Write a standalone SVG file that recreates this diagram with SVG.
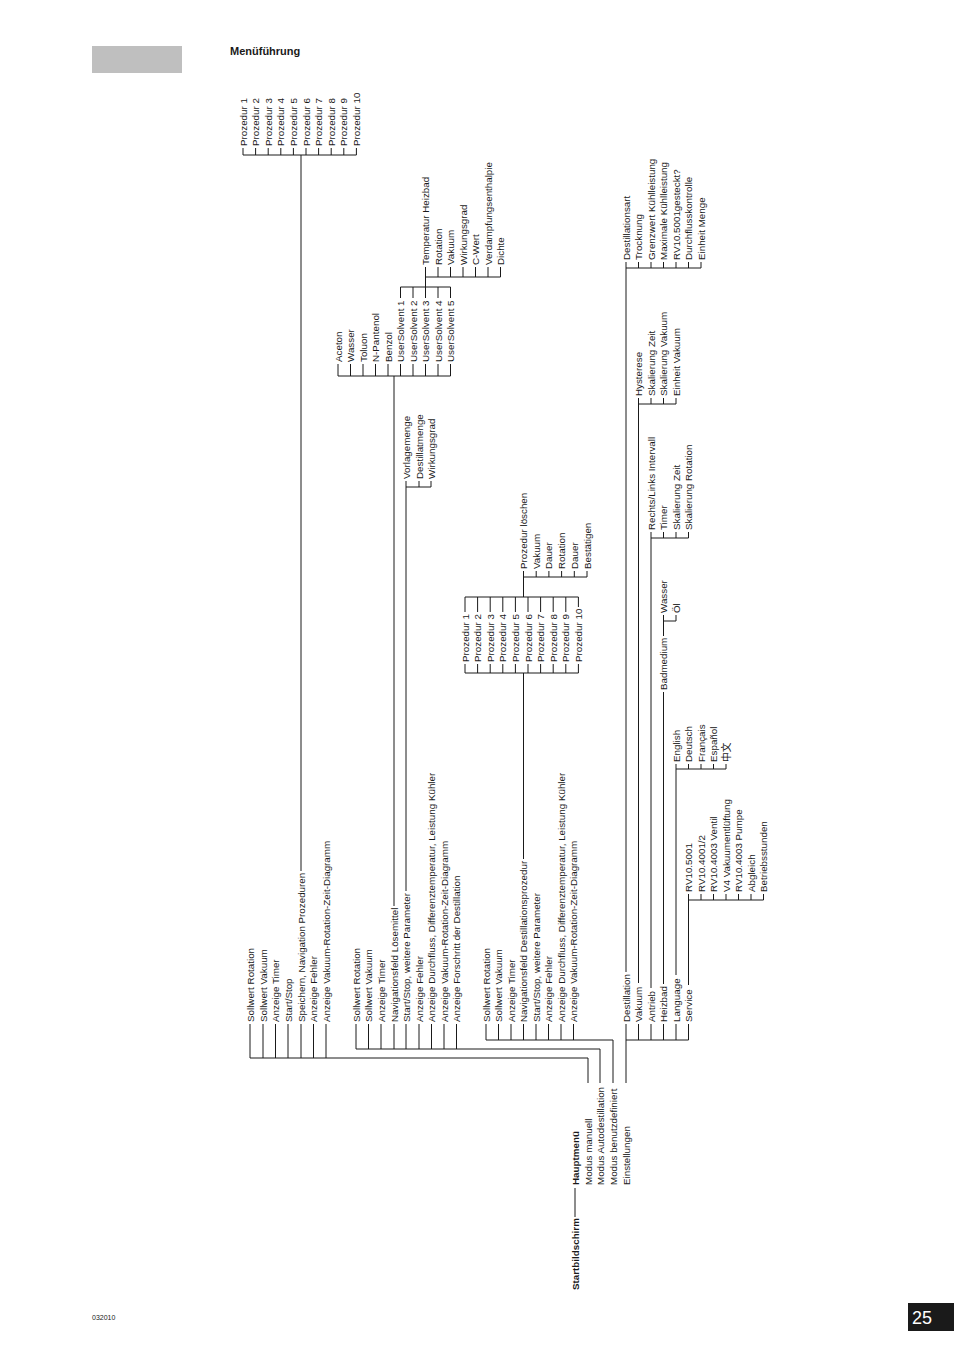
<svg xmlns="http://www.w3.org/2000/svg" width="954" height="1350" viewBox="0 0 954 1350">
<style>
text{font-family:"Liberation Sans",Arial,sans-serif;font-size:9.8px;fill:#1a1a1a}
.b{font-weight:bold}
.cjk{font-family:"Liberation Sans","Noto Sans CJK SC",sans-serif}
#connectors path{stroke:#1a1a1a;stroke-width:1;fill:none}
</style>
<rect width="954" height="1350" fill="#fff"/>
<g id="header">
<rect x="92" y="46" width="90" height="27" fill="#bfbfbf"/>
<text x="230" y="55" class="b" style="font-size:11px">Menüführung</text>
</g>
<g id="footer">
<text x="92" y="1320" style="font-size:7px">032010</text>
<rect x="908" y="1303" width="46" height="28" fill="#1a1a1a"/>
<text x="912" y="1324" style="font-size:18px;fill:#fff">25</text>
</g>
<g id="connectors">
<path d="M575 1217V1188"/>
<path d="M588 1083V1058H250M250 1024V1058M263 1024V1058M275.5 1024V1058M288 1024V1058M301 1024V1058M313.5 1024V1058M326 1024V1058"/>
<path d="M600 1083V1049H356M356 1024V1049M368.5 1024V1049M381 1024V1049M394 1024V1049M406 1024V1049M419 1024V1049M431.5 1024V1049M444 1024V1049M456.5 1024V1049"/>
<path d="M613 1083V1040H486M486 1024V1040M498.5 1024V1040M511 1024V1040M523.5 1024V1040M536 1024V1040M548.5 1024V1040M561 1024V1040M573.5 1024V1040"/>
<path d="M626 1083V1024M626 1040H688.5M638.5 1024V1040M651 1024V1040M663.5 1024V1040M676 1024V1040M688.5 1024V1040"/>
<path d="M301 871V155M243 148V155H356.4V148M255.6 148V155M268.2 148V155M280.8 148V155M293.4 148V155M306 148V155M318.6 148V155M331.2 148V155M343.8 148V155"/>
<path d="M394 906V376M338 364V376H450.5V364M350.5 364V376M363 364V376M375.5 364V376M388 364V376M400.5 364V376M413 364V376M425.5 364V376M438 364V376"/>
<path d="M400.5 298V287H450.5V298M413 298V287M425.5 298V277M438 298V287M425.5 277H500.5V267M425.5 277V267M438 267V277M450.5 267V277M463 267V277M475.5 267V277M488 267V277"/>
<path d="M406 891V487H431V481M406 487V481M419 481V487"/>
<path d="M523.5 859V673M465 664V673H578.4V664M477.6 664V673M490.2 664V673M502.8 664V673M515.4 664V673M528 664V673M540.6 664V673M553.2 664V673M565.8 664V673"/>
<path d="M465 612V597H578.4V607M477.6 612V597M490.2 612V597M502.8 612V597M515.4 612V597M528 612V597M540.6 612V597M553.2 612V597M565.8 612V597M523.5 597V577"/>
<path d="M523.5 577V571M523.5 577H587V571M536.2 571V577M548.9 571V577M561.6 571V577M574.3 571V577"/>
<path d="M626 972V262M626 268H701V262M638.5 262V268M651 262V268M663.5 262V268M676 262V268M688.5 262V268"/>
<path d="M638.5 983V398M638.5 404H676V398M651 398V404M663.5 398V404"/>
<path d="M651 988V532M651 538H688.5V532M663.5 532V538M676 532V538"/>
<path d="M663.5 984V692M663.5 636V615M663.5 621H676V615"/>
<path d="M676 975V764M676 769H726V764M688.5 764V769M701 764V769M713.5 764V769"/>
<path d="M688.5 985V894M688.5 900H763.5V894M701 894V900M713.5 894V900M726 894V900M738.5 894V900M751 894V900"/>
</g>
<g id="startbildschirm"><text class="b" transform="translate(578.5,1290) rotate(-90)">Startbildschirm</text></g>
<g id="hauptmenue"><text class="b" transform="translate(578.5,1185) rotate(-90)">Hauptmenü</text></g>
<g id="modus-manuell"><text transform="translate(591.5,1185) rotate(-90)">Modus manuell</text></g>
<g id="modus-autodestillation"><text transform="translate(603.5,1185) rotate(-90)">Modus Autodestillation</text></g>
<g id="modus-benutzdefiniert"><text transform="translate(616.5,1185) rotate(-90)">Modus benutzdefiniert</text></g>
<g id="einstellungen"><text transform="translate(629.5,1185) rotate(-90)">Einstellungen</text></g>

<g id="m1-sollwert-rotation"><text transform="translate(253.5,1022) rotate(-90)">Sollwert Rotation</text></g>
<g id="m1-sollwert-vakuum"><text transform="translate(266.5,1022) rotate(-90)">Sollwert Vakuum</text></g>
<g id="m1-anzeige-timer"><text transform="translate(279,1022) rotate(-90)">Anzeige Timer</text></g>
<g id="m1-start-stop"><text transform="translate(291.5,1022) rotate(-90)">Start/Stop</text></g>
<g id="m1-speichern"><text transform="translate(304.5,1022) rotate(-90)">Speichern, Navigation Prozeduren</text></g>
<g id="m1-anzeige-fehler"><text transform="translate(317,1022) rotate(-90)">Anzeige Fehler</text></g>
<g id="m1-diagramm"><text transform="translate(329.5,1022) rotate(-90)">Anzeige Vakuum-Rotation-Zeit-Diagramm</text></g>

<g id="p1-1"><text transform="translate(246.5,146) rotate(-90)">Prozedur 1</text></g>
<g id="p1-2"><text transform="translate(259.1,146) rotate(-90)">Prozedur 2</text></g>
<g id="p1-3"><text transform="translate(271.7,146) rotate(-90)">Prozedur 3</text></g>
<g id="p1-4"><text transform="translate(284.3,146) rotate(-90)">Prozedur 4</text></g>
<g id="p1-5"><text transform="translate(296.9,146) rotate(-90)">Prozedur 5</text></g>
<g id="p1-6"><text transform="translate(309.5,146) rotate(-90)">Prozedur 6</text></g>
<g id="p1-7"><text transform="translate(322.1,146) rotate(-90)">Prozedur 7</text></g>
<g id="p1-8"><text transform="translate(334.7,146) rotate(-90)">Prozedur 8</text></g>
<g id="p1-9"><text transform="translate(347.3,146) rotate(-90)">Prozedur 9</text></g>
<g id="p1-10"><text transform="translate(359.9,146) rotate(-90)">Prozedur 10</text></g>

<g id="m2-sollwert-rotation"><text transform="translate(359.5,1022) rotate(-90)">Sollwert Rotation</text></g>
<g id="m2-sollwert-vakuum"><text transform="translate(372,1022) rotate(-90)">Sollwert Vakuum</text></g>
<g id="m2-anzeige-timer"><text transform="translate(384.5,1022) rotate(-90)">Anzeige Timer</text></g>
<g id="m2-navigationsfeld"><text transform="translate(397.5,1022) rotate(-90)">Navigationsfeld Lösemittel</text></g>
<g id="m2-start-stop"><text transform="translate(409.5,1022) rotate(-90)">Start/Stop, weitere Parameter</text></g>
<g id="m2-anzeige-fehler"><text transform="translate(422.5,1022) rotate(-90)">Anzeige Fehler</text></g>
<g id="m2-durchfluss"><text transform="translate(435,1022) rotate(-90)">Anzeige Durchfluss, Differenztemperatur, Leistung Kühler</text></g>
<g id="m2-diagramm"><text transform="translate(447.5,1022) rotate(-90)">Anzeige Vakuum-Rotation-Zeit-Diagramm</text></g>
<g id="m2-fortschritt"><text transform="translate(460,1022) rotate(-90)">Anzeige Forschritt der Destillation</text></g>

<g id="s-aceton"><text transform="translate(341.5,362) rotate(-90)">Aceton</text></g>
<g id="s-wasser"><text transform="translate(354,362) rotate(-90)">Wasser</text></g>
<g id="s-toluon"><text transform="translate(366.5,362) rotate(-90)">Toluon</text></g>
<g id="s-npantenol"><text transform="translate(379,362) rotate(-90)">N-Pantenol</text></g>
<g id="s-benzol"><text transform="translate(391.5,362) rotate(-90)">Benzol</text></g>
<g id="s-user1"><text transform="translate(404,362) rotate(-90)">UserSolvent 1</text></g>
<g id="s-user2"><text transform="translate(416.5,362) rotate(-90)">UserSolvent 2</text></g>
<g id="s-user3"><text transform="translate(429,362) rotate(-90)">UserSolvent 3</text></g>
<g id="s-user4"><text transform="translate(441.5,362) rotate(-90)">UserSolvent 4</text></g>
<g id="s-user5"><text transform="translate(454,362) rotate(-90)">UserSolvent 5</text></g>

<g id="u-temperatur"><text transform="translate(429,265) rotate(-90)">Temperatur Heizbad</text></g>
<g id="u-rotation"><text transform="translate(441.5,265) rotate(-90)">Rotation</text></g>
<g id="u-vakuum"><text transform="translate(454,265) rotate(-90)">Vakuum</text></g>
<g id="u-wirkungsgrad"><text transform="translate(466.5,265) rotate(-90)">Wirkungsgrad</text></g>
<g id="u-cwert"><text transform="translate(479,265) rotate(-90)">C-Wert</text></g>
<g id="u-verdampfung"><text transform="translate(491.5,265) rotate(-90)">Verdampfungsenthalpie</text></g>
<g id="u-dichte"><text transform="translate(504,265) rotate(-90)">Dichte</text></g>

<g id="v-vorlagemenge"><text transform="translate(409.5,479) rotate(-90)">Vorlagemenge</text></g>
<g id="v-destillatmenge"><text transform="translate(422.5,479) rotate(-90)">Destillatmenge</text></g>
<g id="v-wirkungsgrad"><text transform="translate(434.5,479) rotate(-90)">Wirkungsgrad</text></g>

<g id="m3-sollwert-rotation"><text transform="translate(489.5,1022) rotate(-90)">Sollwert Rotation</text></g>
<g id="m3-sollwert-vakuum"><text transform="translate(502,1022) rotate(-90)">Sollwert Vakuum</text></g>
<g id="m3-anzeige-timer"><text transform="translate(514.5,1022) rotate(-90)">Anzeige Timer</text></g>
<g id="m3-navigationsfeld"><text transform="translate(527,1022) rotate(-90)">Navigationsfeld Destillationsprozedur</text></g>
<g id="m3-start-stop"><text transform="translate(539.5,1022) rotate(-90)">Start/Stop, weitere Parameter</text></g>
<g id="m3-anzeige-fehler"><text transform="translate(552,1022) rotate(-90)">Anzeige Fehler</text></g>
<g id="m3-durchfluss"><text transform="translate(564.5,1022) rotate(-90)">Anzeige Durchfluss, Differenztemperatur, Leistung Kühler</text></g>
<g id="m3-diagramm"><text transform="translate(577,1022) rotate(-90)">Anzeige Vakuum-Rotation-Zeit-Diagramm</text></g>

<g id="p2-1"><text transform="translate(468.5,662) rotate(-90)">Prozedur 1</text></g>
<g id="p2-2"><text transform="translate(481.1,662) rotate(-90)">Prozedur 2</text></g>
<g id="p2-3"><text transform="translate(493.7,662) rotate(-90)">Prozedur 3</text></g>
<g id="p2-4"><text transform="translate(506.3,662) rotate(-90)">Prozedur 4</text></g>
<g id="p2-5"><text transform="translate(518.9,662) rotate(-90)">Prozedur 5</text></g>
<g id="p2-6"><text transform="translate(531.5,662) rotate(-90)">Prozedur 6</text></g>
<g id="p2-7"><text transform="translate(544.1,662) rotate(-90)">Prozedur 7</text></g>
<g id="p2-8"><text transform="translate(556.7,662) rotate(-90)">Prozedur 8</text></g>
<g id="p2-9"><text transform="translate(569.3,662) rotate(-90)">Prozedur 9</text></g>
<g id="p2-10"><text transform="translate(581.9,662) rotate(-90)">Prozedur 10</text></g>

<g id="l-loeschen"><text transform="translate(527,569) rotate(-90)">Prozedur löschen</text></g>
<g id="l-vakuum"><text transform="translate(539.7,569) rotate(-90)">Vakuum</text></g>
<g id="l-dauer1"><text transform="translate(552.4,569) rotate(-90)">Dauer</text></g>
<g id="l-rotation"><text transform="translate(565.1,569) rotate(-90)">Rotation</text></g>
<g id="l-dauer2"><text transform="translate(577.8,569) rotate(-90)">Dauer</text></g>
<g id="l-bestaetigen"><text transform="translate(590.5,569) rotate(-90)">Bestätigen</text></g>

<g id="e-destillation"><text transform="translate(629.5,1022) rotate(-90)">Destillation</text></g>
<g id="e-vakuum"><text transform="translate(642,1022) rotate(-90)">Vakuum</text></g>
<g id="e-antrieb"><text transform="translate(654.5,1022) rotate(-90)">Antrieb</text></g>
<g id="e-heizbad"><text transform="translate(667,1022) rotate(-90)">Heizbad</text></g>
<g id="e-language"><text transform="translate(679.5,1022) rotate(-90)">Language</text></g>
<g id="e-service"><text transform="translate(692,1022) rotate(-90)">Service</text></g>

<g id="d-destillationsart"><text transform="translate(629.5,260) rotate(-90)">Destillationsart</text></g>
<g id="d-trocknung"><text transform="translate(642,260) rotate(-90)">Trocknung</text></g>
<g id="d-grenzwert"><text transform="translate(654.5,260) rotate(-90)">Grenzwert Kühlleistung</text></g>
<g id="d-maximale"><text transform="translate(667,260) rotate(-90)">Maximale Kühlleistung</text></g>
<g id="d-rv"><text transform="translate(679.5,260) rotate(-90)">RV10.5001gesteckt?</text></g>
<g id="d-durchfluss"><text transform="translate(692,260) rotate(-90)">Durchflusskontrolle</text></g>
<g id="d-einheit"><text transform="translate(704.5,260) rotate(-90)">Einheit Menge</text></g>

<g id="k-hysterese"><text transform="translate(642,396) rotate(-90)">Hysterese</text></g>
<g id="k-skal-zeit"><text transform="translate(654.5,396) rotate(-90)">Skalierung Zeit</text></g>
<g id="k-skal-vakuum"><text transform="translate(667,396) rotate(-90)">Skalierung Vakuum</text></g>
<g id="k-einheit"><text transform="translate(679.5,396) rotate(-90)">Einheit Vakuum</text></g>

<g id="a-intervall"><text transform="translate(654.5,530) rotate(-90)">Rechts/Links Intervall</text></g>
<g id="a-timer"><text transform="translate(667,530) rotate(-90)">Timer</text></g>
<g id="a-skal-zeit"><text transform="translate(679.5,530) rotate(-90)">Skalierung Zeit</text></g>
<g id="a-skal-rotation"><text transform="translate(692,530) rotate(-90)">Skalierung Rotation</text></g>

<g id="h-badmedium"><text transform="translate(667,690) rotate(-90)">Badmedium</text></g>
<g id="h-wasser"><text transform="translate(667,613) rotate(-90)">Wasser</text></g>
<g id="h-oel"><text transform="translate(679.5,613) rotate(-90)">Öl</text></g>

<g id="g-english"><text transform="translate(679.5,762) rotate(-90)">English</text></g>
<g id="g-deutsch"><text transform="translate(692,762) rotate(-90)">Deutsch</text></g>
<g id="g-francais"><text transform="translate(704.5,762) rotate(-90)">Français</text></g>
<g id="g-espanol"><text transform="translate(717,762) rotate(-90)">Español</text></g>
<g id="g-chinese"><text class="cjk" transform="translate(729.5,762) rotate(-90)">中文</text></g>

<g id="sv-rv5001"><text transform="translate(692,892) rotate(-90)">RV10.5001</text></g>
<g id="sv-rv4001"><text transform="translate(704.5,892) rotate(-90)">RV10.4001/2</text></g>
<g id="sv-ventil"><text transform="translate(717,892) rotate(-90)">RV10.4003 Ventil</text></g>
<g id="sv-v4"><text transform="translate(729.5,892) rotate(-90)">V4 Vakuumentlüftung</text></g>
<g id="sv-pumpe"><text transform="translate(742,892) rotate(-90)">RV10.4003 Pumpe</text></g>
<g id="sv-abgleich"><text transform="translate(754.5,892) rotate(-90)">Abgleich</text></g>
<g id="sv-betriebsstunden"><text transform="translate(767,892) rotate(-90)">Betriebsstunden</text></g>
</svg>
